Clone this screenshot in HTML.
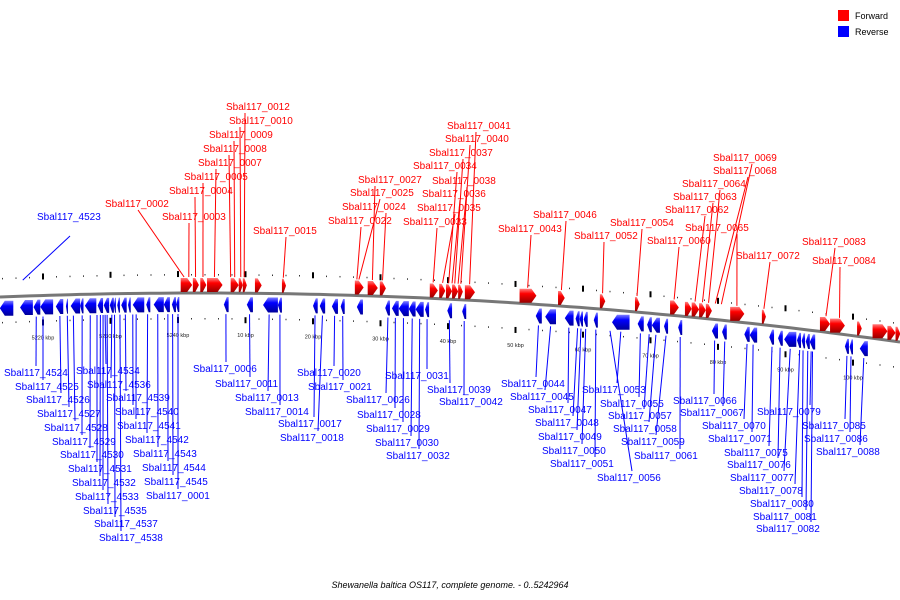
<!DOCTYPE html>
<html><head><meta charset="utf-8"><style>
body{margin:0;background:#fff}
svg{display:block;font-family:"Liberation Sans",sans-serif}
</style></head><body>
<svg id="c" width="900" height="600" viewBox="0 0 900 600">
<defs>
<linearGradient id="gr" x1="0" y1="0" x2="0" y2="1"><stop offset="0" stop-color="#ff8080"/><stop offset="0.35" stop-color="#f00"/><stop offset="1" stop-color="#900"/></linearGradient>
<linearGradient id="gb" x1="0" y1="0" x2="0" y2="1"><stop offset="0" stop-color="#8080ff"/><stop offset="0.35" stop-color="#00f"/><stop offset="1" stop-color="#009"/></linearGradient>
</defs>
<g id="legend">
<rect x="838" y="10" width="11" height="11" fill="#f00"/>
<text x="855" y="19" font-size="9">Forward</text>
<rect x="838" y="26" width="11" height="11" fill="#00f"/>
<text x="855" y="35" font-size="9">Reverse</text>
</g>
<text x="450" y="588" font-size="9" font-style="italic" text-anchor="middle">Shewanella baltica OS117, complete genome. - 0..5242964</text>
</svg>
<script>
// gene coordinates in kbp relative to origin (negative = end of chromosome, wrapped)
const fwdGenes=[[0.4,2.1],[2.2,3.1],[3.3,4.2],[4.3,6.6],[7.8,9.0],[9.0,9.6],[9.6,10.2],[11.4,12.4],[15.4,16.0],[26.2,27.5],[28.1,29.6],[29.9,30.8],[37.3,38.5],[38.7,39.6],[39.7,40.6],[40.6,41.5],[41.5,42.2],[42.5,44.0],[50.6,53.1],[56.3,57.3],[62.5,63.3],[67.7,68.4],[72.9,74.2],[75.1,76.1],[76.1,77.2],[77.2,78.2],[78.2,79.1],[81.8,83.9],[86.5,87.1],[95.1,96.6],[96.6,98.8],[100.6,101.3],[102.9,105.1],[105.1,106.3],[106.3,107.0]];
const revGenes=[[-26.4,-24.4],[-23.4,-21.5],[-21.4,-20.4],[-20.4,-18.5],[-18.1,-17.0],[-16.6,-16.3],[-15.9,-14.5],[-14.5,-14.0],[-13.8,-12.1],[-11.9,-11.1],[-11.0,-10.2],[-10.1,-9.5],[-9.5,-9.2],[-9.0,-8.6],[-8.4,-7.6],[-7.4,-7.0],[-6.7,-5.0],[-4.7,-4.1],[-3.6,-2.1],[-2.1,-1.2],[-0.9,-0.3],[-0.3,0.2],[6.8,7.5],[10.2,11.1],[12.6,14.8],[14.8,15.4],[20.0,20.7],[21.0,21.8],[22.8,23.7],[24.1,24.7],[26.5,27.4],[30.7,31.4],[31.7,32.7],[32.7,34.2],[34.2,35.2],[35.2,36.4],[36.6,37.2],[39.9,40.6],[42.1,42.7],[53.0,53.9],[54.4,56.0],[57.3,58.6],[58.9,59.5],[59.5,60.0],[60.1,60.7],[61.6,62.2],[64.3,66.9],[68.1,69.0],[69.5,70.2],[70.2,71.4],[72.0,72.6],[74.1,74.7],[79.1,80.0],[80.6,81.3],[83.9,84.7],[84.7,85.8],[87.6,88.3],[88.9,89.6],[89.8,91.6],[91.7,92.3],[92.4,92.9],[93.0,93.6],[93.6,94.4],[98.8,99.4],[99.5,100.0],[101.0,102.2]];
const tickKbp=[-30,-20,-10,0,10,20,30,40,50,60,70,80,90,100,110];
const tickLabels=["","5220 kbp","5230 kbp","5240 kbp","10 kbp","20 kbp","30 kbp","40 kbp","50 kbp","60 kbp","70 kbp","80 kbp","90 kbp","100 kbp",""];
// [label, text x, text y, gene kbp, line top x]
const fwdLabels=[["Sbal117_0012",226,110,9.8,245],["Sbal117_0010",229,124,9.3,240],["Sbal117_0009",209,138,8.4,234],["Sbal117_0008",203,152,7.8,229],["Sbal117_0007",198,166,5.4,216],["Sbal117_0005",184,180,3.7,203],["Sbal117_0004",169,194,2.6,195],["Sbal117_0002",105,207,0.9,138],["Sbal117_0003",162,220,1.6,189],["Sbal117_0015",253,234,15.6,286],
["Sbal117_0041",447,129,43.2,476],["Sbal117_0040",445,142,41.9,470],["Sbal117_0037",429,156,41.0,463],["Sbal117_0034",413,169,40.1,457],["Sbal117_0027",358,183,28.8,375],["Sbal117_0038",432,184,41.5,467],["Sbal117_0025",350,196,26.8,380],["Sbal117_0036",422,197,40.6,460],["Sbal117_0024",342,210,30.3,386],["Sbal117_0035",417,211,39.2,455],["Sbal117_0022",328,224,26.5,361],["Sbal117_0033",403,225,37.8,437],["Sbal117_0043",498,232,51.8,531],["Sbal117_0046",533,218,56.8,566],["Sbal117_0052",574,239,62.9,604],["Sbal117_0054",610,226,68.0,642],["Sbal117_0060",647,244,73.5,679],["Sbal117_0069",713,161,80.5,752],["Sbal117_0068",713,174,79.6,748],["Sbal117_0064",682,187,78.6,720],["Sbal117_0063",673,200,77.7,713],["Sbal117_0062",665,213,76.6,705],["Sbal117_0065",685,231,82.8,737],["Sbal117_0072",736,259,86.8,770],["Sbal117_0083",802,245,96.0,835],["Sbal117_0084",812,264,98.0,840]];
const revLabels=[["Sbal117_4523",37,220,-23.0,70],
["Sbal117_4524",4,376,-21.0,36],["Sbal117_4525",15,390,-20.0,43],["Sbal117_4526",26,403,-17.5,61],["Sbal117_4527",37,417,-16.4,69],["Sbal117_4528",44,431,-15.5,75],["Sbal117_4529",52,445,-14.2,82],["Sbal117_4530",60,458,-13.0,90],["Sbal117_4531",68,472,-12.0,97],["Sbal117_4532",72,486,-11.5,100],["Sbal117_4533",75,500,-11.1,103],["Sbal117_4535",83,514,-10.5,108],["Sbal117_4537",94,527,-9.4,115],["Sbal117_4538",99,541,-8.6,121],["Sbal117_4534",76,374,-10.8,106],["Sbal117_4536",87,388,-9.8,111],["Sbal117_4539",106,401,-7.8,126],["Sbal117_4540",115,415,-6.7,133],["Sbal117_4541",117,429,-6.2,136],["Sbal117_4542",125,443,-4.5,147],["Sbal117_4543",133,457,-3.0,158],["Sbal117_4544",142,471,-1.5,168],["Sbal117_4545",144,485,-0.8,173],["Sbal117_0001",146,499,0.0,178],
["Sbal117_0006",193,372,7.1,226],["Sbal117_0011",215,387,10.6,250],["Sbal117_0013",235,401,13.5,268],["Sbal117_0014",245,415,15.1,280],["Sbal117_0017",278,427,20.3,314],["Sbal117_0018",280,441,21.4,318],["Sbal117_0020",297,376,23.2,334],["Sbal117_0021",308,390,24.4,343],["Sbal117_0026",346,403,31.1,386],["Sbal117_0028",357,418,32.2,395],["Sbal117_0029",366,432,33.4,403],["Sbal117_0030",375,446,34.7,411],["Sbal117_0032",386,459,35.8,419],["Sbal117_0031",385,379,36.9,427],["Sbal117_0039",427,393,40.2,450],["Sbal117_0042",439,405,42.4,464],["Sbal117_0044",501,387,53.4,536],["Sbal117_0045",510,400,55.2,545],["Sbal117_0047",528,413,57.9,568],["Sbal117_0048",535,426,59.2,573],["Sbal117_0049",538,440,59.7,577],["Sbal117_0050",542,454,60.4,582],["Sbal117_0051",550,467,61.9,595],["Sbal117_0053",582,393,65.6,617],["Sbal117_0055",600,407,68.5,639],["Sbal117_0057",608,419,69.8,644],["Sbal117_0058",613,432,70.8,649],["Sbal117_0059",621,445,72.3,656],["Sbal117_0061",634,459,74.4,680],["Sbal117_0056",597,481,64.0,632],["Sbal117_0066",673,404,79.5,714],["Sbal117_0067",680,416,81.0,723],["Sbal117_0070",702,429,84.3,744],["Sbal117_0071",708,442,85.2,752],["Sbal117_0075",724,456,88.0,769],["Sbal117_0076",727,468,89.2,778],["Sbal117_0077",730,481,90.7,784],["Sbal117_0078",739,494,92.1,795],["Sbal117_0080",750,507,92.6,802],["Sbal117_0081",753,520,93.3,806],["Sbal117_0082",756,532,94.0,811],["Sbal117_0079",757,415,93.8,810],["Sbal117_0085",802,429,99.1,845],["Sbal117_0086",804,442,99.7,850],["Sbal117_0088",816,455,101.6,860]];

const svg=document.getElementById('c');
const NS='http://www.w3.org/2000/svg';
const X=k=>178+k*6.75;
const BY=x=>293+0.0001*(x-200)*(x-200);
function mk(tag,attrs,parent){const e=document.createElementNS(NS,tag);for(const k in attrs)e.setAttribute(k,attrs[k]);(parent||svg).appendChild(e);return e;}

const bb=mk('path',{d:(()=>{let d='';for(let x=0;x<=900;x+=10)d+=(x?'L':'M')+x+','+BY(x).toFixed(1);return d;})(),stroke:'#777','stroke-width':3,fill:'none'});



tickKbp.forEach((k,i)=>{
  const x=X(k),y=BY(x);
  const t1=mk('rect',{x:x-1,y:y-22,width:2,height:6,fill:'#000'});
  
  
  const t2=mk('rect',{x:x-1,y:y+24,width:2,height:6,fill:'#000'});
  
  
  for(let j=1;j<5;j++){const xm=X(k+j*2),ym=BY(xm);
    const d1=mk('rect',{x:xm-0.5,y:ym-19,width:1,height:1.5,fill:'#333'});
    
    
    const d2=mk('rect',{x:xm-0.5,y:ym+25,width:1,height:1.5,fill:'#333'});
    
    }
  if(tickLabels[i]){const tl=mk('text',{x:x,y:y+44,'font-size':5.5,'text-anchor':'middle',fill:'#222'});tl.textContent=tickLabels[i];
    
    }
});

fwdGenes.forEach(g=>{
  const x1=X(g[0]),x2=X(g[1]),y=BY((x1+x2)/2),t=y-15,b=y-1,h=Math.min(5,(x2-x1)*0.6);
  const p=mk('polygon',{points:`${x1},${t} ${x2-h},${t} ${x2},${(t+b)/2} ${x2-h},${b} ${x1},${b}`,fill:'url(#gr)'});
  
  
});
revGenes.forEach(g=>{
  const x1=X(g[0]),x2=X(g[1]),y=BY((x1+x2)/2),t=y+4,b=y+19,h=Math.min(5,(x2-x1)*0.6);
  const p=mk('polygon',{points:`${x1},${(t+b)/2} ${x1+h},${t} ${x2},${t} ${x2},${b} ${x1+h},${b}`,fill:'url(#gb)'});
  
  
});

fwdLabels.forEach(l=>{
  const gx=X(l[3]),gy=BY(gx)-16;
  const ln=mk('line',{x1:l[4],y1:l[2]+3,x2:gx,y2:gy,stroke:'#f00','stroke-width':1});
  
  
  const t=mk('text',{x:l[1],y:l[2],'font-size':10,fill:'#f00'});t.textContent=l[0];
  
  
});
revLabels.forEach((l,i)=>{
  const gx=X(l[3]);
  let ln;
  if(i===0){ln=mk('line',{x1:l[4],y1:l[2]+16,x2:gx,y2:BY(gx)-16,stroke:'#00f','stroke-width':1});}
  else{ln=mk('line',{x1:gx,y1:BY(gx)+21,x2:l[4],y2:l[2]-10,stroke:'#00f','stroke-width':1});}
  
  
  const t=mk('text',{x:l[1],y:l[2],'font-size':10,fill:'#00f'});t.textContent=l[0];
  
  
});
</script>
</body></html>
